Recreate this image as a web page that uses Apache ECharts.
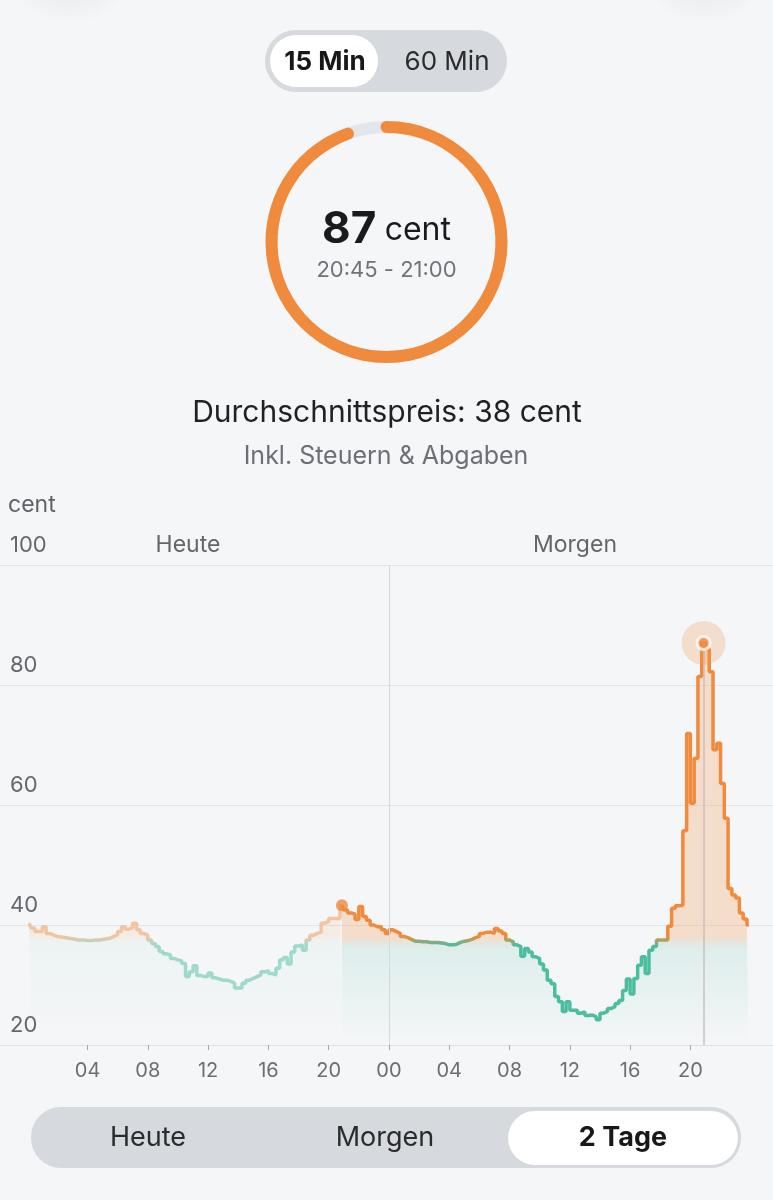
<!DOCTYPE html>
<html><head><meta charset="utf-8">
<script src="https://cdn.jsdelivr.net/npm/echarts@6/dist/echarts.min.js"></script>
<style>html,body{margin:0;padding:0;background:#f5f6f8;}#c{width:773px;height:1200px;}</style>
</head><body><div id="c"></div>
<script>
// ---- data (cent per kWh, 15-minute slots) ----
const priceHeute = [
40.3,39.5,38.9,38.9,39.7,38.6,38.3,38.1,38.0,37.9,37.8,37.7,37.6,37.5,37.5,37.4,
37.4,37.5,37.5,37.6,37.7,37.8,38.1,38.4,38.9,39.7,39.3,39.6,40.3,39.2,38.6,38.3,
37.5,36.9,36.4,35.6,35.2,35.0,34.4,34.2,34.0,33.6,31.4,32.2,33.2,31.6,31.4,31.4,
32.0,31.2,31.0,30.8,30.8,30.6,30.3,29.5,29.5,30.3,30.8,31.1,31.4,31.7,32.2,32.4,
31.9,31.7,32.8,34.2,34.6,33.5,35.5,36.5,36.7,35.8,37.5,38.3,38.6,38.8,40.3,40.6,
41.1,41.1,41.1,43.3,42.5,42.0,41.8,40.9,43.1,41.4,40.8,40.0,39.7,39.7,39.2,38.6
];
const priceMorgen = [
39.2,38.9,38.6,38.1,37.9,37.6,37.3,37.3,37.2,37.2,37.1,37.1,37.1,37.0,36.9,36.7,
36.7,36.8,37.1,37.3,37.4,37.6,37.9,38.1,38.6,38.8,38.8,38.6,39.4,39.0,38.6,37.5,
37.2,36.7,36.4,34.8,36.1,35.5,34.7,34.4,33.5,32.5,30.8,30.2,28.1,27.2,25.6,27.2,
25.8,25.8,25.3,25.5,24.9,25.0,24.7,24.2,25.3,25.6,26.1,26.4,26.9,27.4,29.1,31.0,
28.5,31.1,33.3,34.7,31.9,35.8,36.4,37.5,37.5,37.5,39.8,42.8,43.2,43.3,55.7,71.9,
60.3,67.8,81.4,87.0,86.0,82.2,69.2,70.3,63.6,57.8,46.1,45.0,44.5,42.0,41.0,40.0
];
const dayLabels = ['Heute', 'Morgen'];
const xTickHours = [4, 8, 12, 16, 20, 24, 28, 32, 36, 40, 44];
const yMin = 20, yMax = 100, yStep = 20;
const yUnit = 'cent';
const nowSlot = 83;           // Heute 20:45
const selectedSlot = 96 + 83; // Morgen 20:45
const avgPrice = 38;
const ringMax = 92;
const resolutions = ['15 Min', '60 Min'];
const ranges = ['Heute', 'Morgen', '2 Tage'];

// ---- derived ----
const allPrices = priceHeute.concat(priceMorgen);
const pts = allPrices.map((v, i) => [i * 0.25 + 0.125, v]);
const pastPts = pts.slice(0, nowSlot + 1);
const futurePts = pts.slice(nowSlot);
const selPt = pts[selectedSlot];
const nowPt = pts[nowSlot];
const currentPrice = Math.round(selPt[1]);
function hhmm(slot) { const m = (slot % 96) * 15; return String(Math.floor(m / 60)).padStart(2, '0') + ':' + String(m % 60).padStart(2, '0'); }
const selRange = hhmm(selectedSlot) + ' - ' + hhmm(selectedSlot + 1);

const FONT = 'Inter, "Noto Sans", sans-serif';
const ORANGE = [240, 138, 60], TEAL = [76, 190, 160];
const PEACH_L = [243, 196, 160], TEAL_L = [158, 218, 204];
function mix(a, b, t) { return 'rgb(' + a.map((c, i) => Math.round(c + (b[i] - c) * t)).join(',') + ')'; }
function colorScale(low, high) {
  const cols = [];
  for (let v = yMin; v <= yMax + 1e-9; v += 0.5) {
    const t = Math.min(1, Math.max(0, (v - (avgPrice - 1.2)) / 1.2));
    cols.push(mix(low, high, t));
  }
  return cols;
}
function areaGrad(data, peachA, tealA) {
  const mx = Math.max.apply(null, data.map(p => p[1]));
  const o = Math.min(0.98, Math.max(0, (mx - avgPrice) / (mx - yMin)));
  return new echarts.graphic.LinearGradient(0, 0, 0, 1, [
    { offset: 0, color: 'rgba(240,140,60,' + peachA + ')' },
    { offset: o, color: 'rgba(240,140,60,' + peachA + ')' },
    { offset: Math.min(1, o + 0.03), color: 'rgba(76,190,160,' + tealA + ')' },
    { offset: 1, color: 'rgba(76,190,160,0)' }
  ]);
}

const chart = echarts.init(document.getElementById('c'), null, { renderer: 'canvas', width: 773, height: 1200 });

function txt(text, x, y, size, color, weight, align) {
  return { type: 'text', silent: true, style: { text: text, x: x, y: y, fontSize: size, fontFamily: FONT, fontWeight: weight || 400, fill: color, align: align || 'center', verticalAlign: 'middle' } };
}
function blob(cx) {
  return { type: 'circle', silent: true, shape: { cx: cx, cy: -45, r: 70 },
    style: { fill: new echarts.graphic.RadialGradient(0.5, 0.5, 0.5, [
      { offset: 0, color: 'rgba(120,125,135,0.16)' }, { offset: 1, color: 'rgba(120,125,135,0)' }]) } };
}

const graphics = [
  blob(70), blob(705),
  // top toggle
  { type: 'rect', shape: { x: 265, y: 30, width: 242, height: 62, r: 31 }, style: { fill: '#d6d9dd' }, silent: true },
  { type: 'rect', shape: { x: 270, y: 35, width: 108, height: 52, r: 26 }, style: { fill: '#ffffff' }, silent: true },
  txt(resolutions[0], 325, 62, 26, '#17181a', 700),
  txt(resolutions[1], 447, 62, 26, '#2a2b2e', 400),
  // summary
  txt('Durchschnittspreis: ' + avgPrice + ' cent', 387, 413, 30, '#1f2124', 400),
  txt('Inkl. Steuern & Abgaben', 386, 456, 25, '#6c7076', 400),
  // unit + day labels
  txt(yUnit, 8, 505, 23, '#5f6368', 400, 'left'),
  txt(dayLabels[0], 188, 545, 23, '#63666b', 400),
  txt(dayLabels[1], 575, 545, 23, '#63666b', 400),
  // bottom segmented control
  { type: 'rect', shape: { x: 31, y: 1107, width: 710, height: 61, r: 30 }, style: { fill: '#d6d9dd' }, silent: true },
  { type: 'rect', shape: { x: 508, y: 1111, width: 230, height: 54, r: 27 }, style: { fill: '#ffffff' }, silent: true },
  txt(ranges[0], 148, 1138, 27, '#2a2b2e', 400),
  txt(ranges[1], 385, 1138, 27, '#2a2b2e', 400),
  txt(ranges[2], 623, 1138, 27, '#17181a', 700)
];

chart.setOption({
  backgroundColor: '#f5f6f8',
  animation: false,
  textStyle: { fontFamily: FONT },
  grid: { left: 0, right: 0, top: 565, bottom: 155, containLabel: false, outerBoundsMode: 'none' },
  xAxis: {
    type: 'value', min: -1.81, max: 49.48,
    axisLine: { show: true, lineStyle: { color: '#dfe1e4', width: 1 } },
    axisTick: { show: true, customValues: xTickHours, length: 5, lineStyle: { color: '#a4a7ac' } },
    axisLabel: { customValues: xTickHours, formatter: v => String(v % 24).padStart(2, '0'), color: '#6b6e73', fontSize: 20, margin: 16, fontFamily: FONT },
    splitLine: { show: false }
  },
  yAxis: {
    type: 'value', min: yMin, max: yMax, interval: yStep, position: 'left',
    axisLine: { show: false }, axisTick: { show: false },
    splitLine: { lineStyle: { color: '#e3e5e8', width: 1 } },
    axisLabel: { inside: true, margin: 10, verticalAlign: 'bottom', padding: [0, 0, 9, 0], color: '#64676c', fontSize: 22, fontFamily: FONT, showMaxLabel: true }
  },
  visualMap: [
    { type: 'continuous', show: false, seriesIndex: 0, dimension: 1, min: yMin, max: yMax, inRange: { color: colorScale(TEAL_L, PEACH_L) } },
    { type: 'continuous', show: false, seriesIndex: 1, dimension: 1, min: yMin, max: yMax, inRange: { color: colorScale(TEAL, ORANGE) } }
  ],
  series: [
    {
      type: 'line', data: pastPts, step: 'middle', symbol: 'none', silent: true, z: 3,
      lineStyle: { width: 3.5 },
      areaStyle: { color: areaGrad(pastPts, 0.14, 0.07), origin: 'start' },
      markLine: { symbol: 'none', silent: true, label: { show: false }, lineStyle: { color: '#d6d8db', width: 1, type: 'solid' }, data: [{ xAxis: 24 }] }
    },
    {
      type: 'line', data: futurePts, step: 'middle', symbol: 'none', silent: true, z: 4,
      lineStyle: { width: 3.5 },
      areaStyle: { color: areaGrad(futurePts, 0.34, 0.2), origin: 'start' },
      markLine: { symbol: 'none', silent: true, label: { show: false }, lineStyle: { color: 'rgba(200,190,185,0.7)', width: 2, type: 'solid' },
        data: [[{ coord: [selPt[0], selPt[1]] }, { coord: [selPt[0], yMin] }]] }
    },
    { type: 'scatter', data: [nowPt], symbolSize: 12, itemStyle: { color: '#f08a3c' }, z: 6, silent: true },
    { type: 'scatter', data: [selPt], symbolSize: 44, itemStyle: { color: 'rgba(240,150,80,0.32)' }, z: 5, silent: true },
    { type: 'scatter', data: [selPt], symbolSize: 13, itemStyle: { color: '#f08a3c', borderColor: '#ffffff', borderWidth: 3 }, z: 7, silent: true },
    {
      type: 'gauge', center: [386.5, 242], radius: 121, startAngle: 90, endAngle: -270, min: 0, max: ringMax,
      pointer: { show: false }, anchor: { show: false }, title: { show: false },
      progress: { show: true, width: 12, roundCap: true, itemStyle: { color: '#f08a3c' } },
      axisLine: { roundCap: true, lineStyle: { width: 12, color: [[1, '#e3e6ea']] } },
      axisTick: { show: false }, splitLine: { show: false }, axisLabel: { show: false },
      detail: {
        offsetCenter: [0, 3], valueAnimation: false, fontWeight: 400,
        formatter: v => '{v|' + Math.round(v) + '} {u|cent}\n{t|' + selRange + '}',
        rich: {
          v: { fontSize: 44, fontWeight: 700, color: '#1a1b1e', fontFamily: FONT, lineHeight: 50 },
          u: { fontSize: 32, fontWeight: 400, color: '#1a1b1e', fontFamily: FONT, lineHeight: 50 },
          t: { fontSize: 22, fontWeight: 400, color: '#6f737a', fontFamily: FONT, lineHeight: 30 }
        }
      },
      data: [{ value: currentPrice }]
    }
  ],
  graphic: graphics
});
</script>
</body></html>
